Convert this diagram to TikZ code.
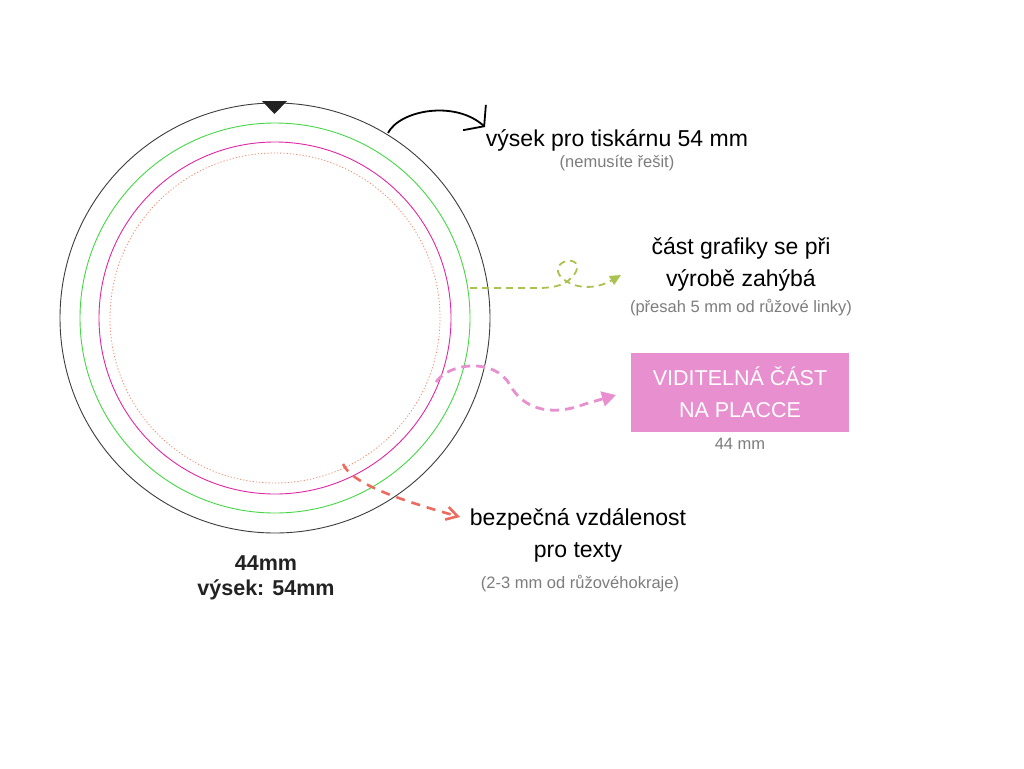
\documentclass[tikz,border=0pt]{standalone}
\usepackage{fontspec}
\setmainfont{Liberation Sans}
\usetikzlibrary{arrows.meta}
\definecolor{ink}{RGB}{34,34,34}
\definecolor{ringblack}{RGB}{60,60,60}
\definecolor{ringgreen}{RGB}{70,215,70}
\definecolor{ringpink}{RGB}{222,40,165}
\definecolor{ringdot}{RGB}{240,140,110}
\definecolor{subgray}{RGB}{125,125,125}
\definecolor{olive}{RGB}{170,195,80}
\definecolor{boxpink}{RGB}{232,143,207}
\definecolor{salmon}{RGB}{236,107,94}
\tikzset{
  maintext/.style={inner sep=0pt, align=center, text=black, font=\fontsize{23}{32}\selectfont},
  subtext/.style={inner sep=0pt, align=center, text=subgray, font=\fontsize{16.5}{19}\selectfont},
  boldtext/.style={inner sep=0pt, align=center, text=ink, font=\bfseries\fontsize{21.5}{25}\selectfont},
  boxtext/.style={fill=boxpink, text=white, align=center, minimum width=218pt, minimum height=79pt, inner sep=0pt, font=\fontsize{21.5}{32}\selectfont},
  ring/.style={line width=0.9pt},
}
\begin{document}
\begin{tikzpicture}[x=1pt,y=-1pt]
\useasboundingbox (0,0) rectangle (1024,768);
\fill[white] (0,0) rectangle (1024,768);
% rings
\coordinate (c) at (275,318);
\draw[ring, ringblack] (c) circle[radius=215pt];
\draw[ring, ringgreen] (c) circle[radius=195pt];
\draw[ring, ringpink] (c) circle[radius=176pt];
\draw[line width=0.8pt, ringdot, dash pattern=on 1.2pt off 2pt] (c) circle[radius=165pt];
\fill[ink] (262,101) -- (287,101) -- (274.5,114) -- cycle;
% texts
\node[maintext] (t1) at (617,140) {výsek pro tiskárnu 54 mm};
\node[subtext] (t1s) at (617,163) {(nemusíte řešit)};
\node[maintext] (t2) at (741,264) {část grafiky se při\\výrobě zahýbá};
\node[subtext] (t2s) at (741,308) {(přesah 5 mm od růžové linky)};
\node[boxtext] (box) at (740,392.5) {VIDITELNÁ ČÁST\\NA PLACCE};
\node[subtext] (boxs) at (740,444) {44 mm};
\node[maintext] (t3) at (578,535.5) {bezpečná vzdálenost\\pro texty};
\node[subtext] (t3s) at (580,584) {(2-3 mm od růžovéhokraje)};
\node[boldtext] (dim) at (266,577.5) {44mm\\výsek: 54mm};
% connector anchors
\coordinate (a1s) at (388,133);
\coordinate (a1e) at (485,127);
\coordinate (a2s) at (470,288);
\coordinate (a2e) at (621,275);
\coordinate (a3s) at (436,382);
\coordinate (a3e) at (616,395);
\coordinate (a4s) at (343,464);
\coordinate (a4e) at (460,517);
% black arrow
\draw[line width=1.8pt, black, -{Straight Barb[length=13pt,width=34pt,line width=1.8pt]}]
  (a1s) .. controls (400,110) and (455,100) .. (a1e);
% green looped arrow
\draw[line width=1.8pt, olive, dash pattern=on 7pt off 5pt, -{Triangle[length=11pt,width=10pt]}]
  (a2s) -- (538,288) .. controls (554,288) and (565,285) .. (571,278)
  .. controls (581,269) and (578,259) .. (567,261)
  .. controls (556,263) and (554,274) .. (566,281)
  .. controls (576,288) and (595,290) .. (a2e);
% pink arrow
\draw[line width=2.8pt, boxpink, dash pattern=on 9pt off 6pt, -{Triangle[length=14pt,width=15pt]}]
  (a3s) .. controls (450,362) and (495,358) .. (510,385)
  .. controls (522,407) and (548,418) .. (585,404) -- (a3e);
% red arrow
\draw[line width=2.6pt, salmon, dash pattern=on 9pt off 7pt, -{Straight Barb[length=11pt,width=13pt,line width=2.6pt]}]
  (a4s) .. controls (352,484) and (400,500) .. (a4e);
\end{tikzpicture}
\end{document}
